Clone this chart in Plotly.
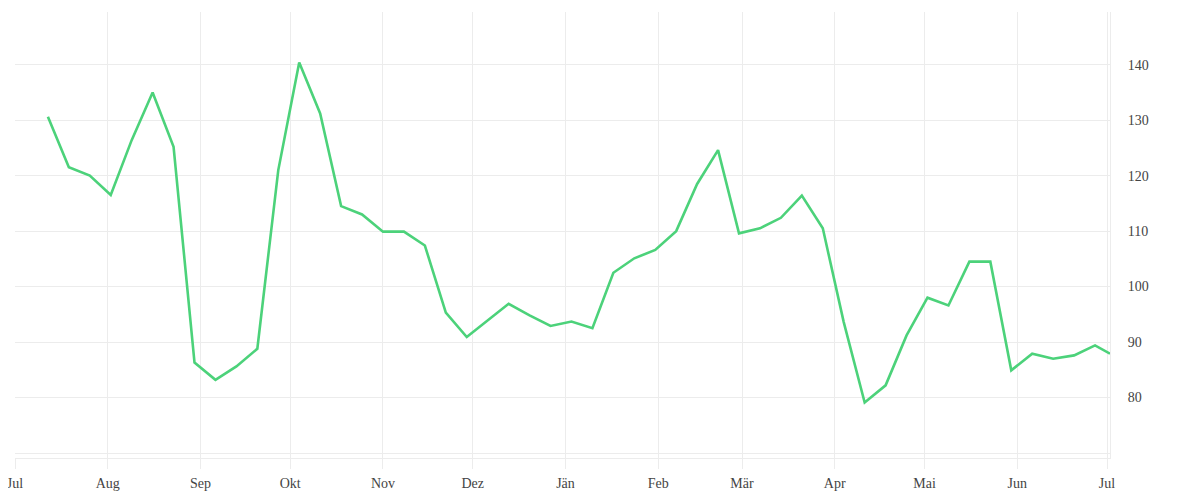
import plotly.graph_objects as go
import pandas as pd

start_date = "2022-07-12"
weekly_values = [
    130.6, 121.5, 120.0, 116.5, 126.4, 135.0, 125.2, 86.3, 83.2, 85.6,
    88.8, 121.0, 140.4, 131.2, 114.5, 113.0, 109.9, 109.9, 107.4, 95.3,
    90.9, 93.9, 96.9, 94.8, 92.9, 93.7, 92.5, 102.5, 105.1, 106.6,
    110.0, 118.5, 124.6, 109.6, 110.5, 112.4, 116.4, 110.5, 93.6, 79.1,
    82.2, 91.2, 98.0, 96.6, 104.5, 104.5, 84.9, 87.9, 87.0, 87.6,
    89.4,
]
last_date = "2023-07-02"
last_value = 87.9

dates = list(pd.date_range(start_date, periods=len(weekly_values), freq="7D")) + [pd.Timestamp(last_date)]
values = weekly_values + [last_value]

month_ticks = ["2022-07-01", "2022-08-01", "2022-09-01", "2022-10-01", "2022-11-01",
               "2022-12-01", "2023-01-01", "2023-02-01", "2023-03-01", "2023-04-01",
               "2023-05-01", "2023-06-01", "2023-07-01"]
month_labels = ["Jul", "Aug", "Sep", "Okt", "Nov", "Dez", "Jän", "Feb", "Mär", "Apr",
                "Mai", "Jun", "Jul"]
y_ticks = [70, 80, 90, 100, 110, 120, 130, 140]
y_labels = ["", "80", "90", "100", "110", "120", "130", "140"]

grid = "#ececec"
font = dict(family="Liberation Serif", size=14, color="#444444")

fig = go.Figure()
fig.add_trace(go.Scatter(
    x=dates, y=values, mode="lines",
    line=dict(color="#4cd27a", width=2.6),
    hoverinfo="x+y", showlegend=False,
))

# page body has an 8px default margin; the figure is sized to fit the window
fig.update_layout(
    width=1192, height=492,
    margin=dict(l=7, r=90, t=4, b=42),
    paper_bgcolor="white", plot_bgcolor="white",
    font=font,
    xaxis=dict(
        range=["2022-07-01", "2023-07-02"],
        tickvals=month_ticks, ticktext=month_labels,
        showgrid=True, gridcolor=grid, gridwidth=1,
        ticks="outside", ticklen=10, tickcolor=grid, tickwidth=1,
        showline=True, linecolor=grid, linewidth=1,
        zeroline=False, tickfont=font, automargin=False,
        ticklabelstandoff=2, ticklabeloverflow="allow",
    ),
    yaxis=dict(
        side="right",
        range=[69.1, 149.5],
        tickvals=y_ticks, ticktext=y_labels,
        showgrid=True, gridcolor=grid, gridwidth=1,
        ticks="", ticklabelstandoff=14,
        showline=True, linecolor=grid, linewidth=1,
        zeroline=False, tickfont=font, automargin=False,
        ticklabeloverflow="allow",
    ),
)

fig.write_html("out.html")
